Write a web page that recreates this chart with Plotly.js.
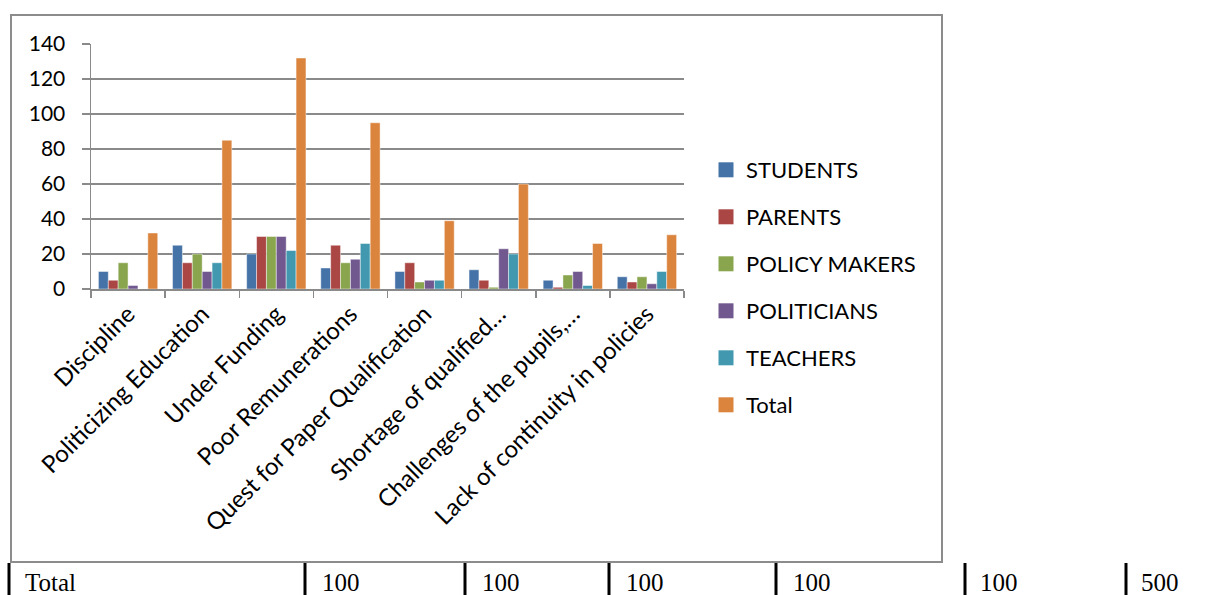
<!DOCTYPE html>
<html>
<head>
<meta charset="utf-8">
<script src="https://cdn.plot.ly/plotly-3.0.1.min.js"></script>
<style>
html,body{margin:0;padding:0;background:#fff;}
#chart{width:1211px;height:595px;}
</style>
</head>
<body>
<div id="chart"></div>
<script>
// ---- data ----
const categories = ["Discipline", "Politicizing Education", "Under Funding", "Poor Remunerations",
  "Quest for Paper Qualification", "Shortage of qualified…", "Challenges of the pupils,…",
  "Lack of continuity in policies"];
const students    = [10, 25, 20, 12, 10, 11, 5, 7];
const parents     = [5, 15, 30, 25, 15, 5, 1, 4];
const policyMakers= [15, 20, 30, 15, 4, 1, 8, 7];
const politicians = [2, 10, 30, 17, 5, 23, 10, 3];
const teachers    = [0, 15, 22, 26, 5, 20, 2, 10];
const totals      = [32, 85, 132, 95, 39, 60, 26, 31];

const seriesNames = ["STUDENTS", "PARENTS", "POLICY MAKERS", "POLITICIANS", "TEACHERS", "Total"];
const tableLabels = ["Total", "100", "100", "100", "100", "100", "500"];

// ---- styles ----
const colors = ["#4572A7", "#AA4643", "#89A54E", "#71588F", "#4198AF", "#DB843D"];
const seriesValues = [students, parents, policyMakers, politicians, teachers, totals];

// plot area in pixels
const L = 91, R = 684, T = 44, B = 289;
const W = 1211, H = 595;
const px2x = p => (p - L) / (R - L);
const py2y = p => (B - p) / (B - T);

const FONT = "Lato, 'Open Sans', sans-serif";
const grey = "#8a8a8a";

const legendKeys = ["legend", "legend2", "legend3", "legend4", "legend5", "legend6"];
const legendRowY = [170, 217, 264, 311, 358, 405];

const traces = [];
seriesNames.forEach((n, i) => {
  traces.push({
    type: "bar",
    name: n,
    x: categories,
    y: seriesValues[i],
    showlegend: false,
    marker: {color: colors[i], line: {color: "rgba(255,255,255,0.45)", width: 1}},
    hoverinfo: "x+y+name"
  });
});
// legend swatches (square keys like the original), one legend per row
seriesNames.forEach((n, i) => {
  traces.push({
    type: "scatter", mode: "markers",
    name: n, x: [null], y: [null],
    legend: legendKeys[i], showlegend: true,
    marker: {symbol: "square", size: 15, color: colors[i]},
    hoverinfo: "skip"
  });
});

const shapes = [];
const annotations = [];

// outer chart border
shapes.push({type: "rect", xref: "paper", yref: "paper",
  x0: px2x(11), x1: px2x(942), y0: py2y(562), y1: py2y(15),
  line: {color: "#8c8c8c", width: 2}, fillcolor: "rgba(0,0,0,0)", layer: "below"});

// bottom table row
const tableLines = [9, 305, 465, 609, 776, 965, 1126];
const tableText = [24, 321, 481, 625, 792, 979, 1140];
tableLines.forEach(xp => {
  shapes.push({type: "line", xref: "paper", yref: "paper",
    x0: px2x(xp), x1: px2x(xp), y0: py2y(563), y1: py2y(596),
    line: {color: "#000", width: 3}});
});
tableLabels.forEach((t, i) => {
  annotations.push({xref: "paper", yref: "paper", x: px2x(tableText[i]), y: py2y(597),
    xanchor: "left", yanchor: "bottom", showarrow: false, text: t,
    font: {family: "'Liberation Serif', 'Times New Roman', serif", size: 25, color: "#000"},
    borderpad: 0});
});

const layout = {
  width: W, height: H,
  margin: {l: L, r: W - R, t: T, b: H - B, pad: 0},
  paper_bgcolor: "#fff", plot_bgcolor: "#fff",
  barmode: "group", bargap: 0.2, bargroupgap: 0,
  showlegend: true,
  xaxis: {
    type: "category", tickangle: -45, tickson: "boundaries",
    ticks: "outside", ticklen: 7, tickwidth: 1.5, tickcolor: grey,
    showline: true, linecolor: grey, linewidth: 1.5,
    showgrid: false, zeroline: false,
    tickfont: {family: FONT, size: 24, color: "#000"}
  },
  yaxis: {
    range: [0, 140], dtick: 20, tick0: 0,
    ticks: "outside", ticklen: 8, tickwidth: 1.5, tickcolor: grey,
    showline: true, linecolor: grey, linewidth: 1.5,
    showgrid: true, gridcolor: grey, gridwidth: 1.5, zeroline: false,
    ticklabelstandoff: 12,
    tickfont: {family: FONT, size: 21, color: "#000"}
  },
  shapes: shapes,
  annotations: annotations,
  font: {family: FONT}
};
legendKeys.forEach((k, i) => {
  layout[k] = {x: px2x(706), xanchor: "left", y: py2y(legendRowY[i]), yanchor: "middle",
    font: {family: FONT, size: 22, color: "#000"}, bgcolor: "rgba(0,0,0,0)", itemwidth: 30};
});

Plotly.newPlot("chart", traces, layout, {displayModeBar: false, staticPlot: true});
</script>
</body>
</html>
